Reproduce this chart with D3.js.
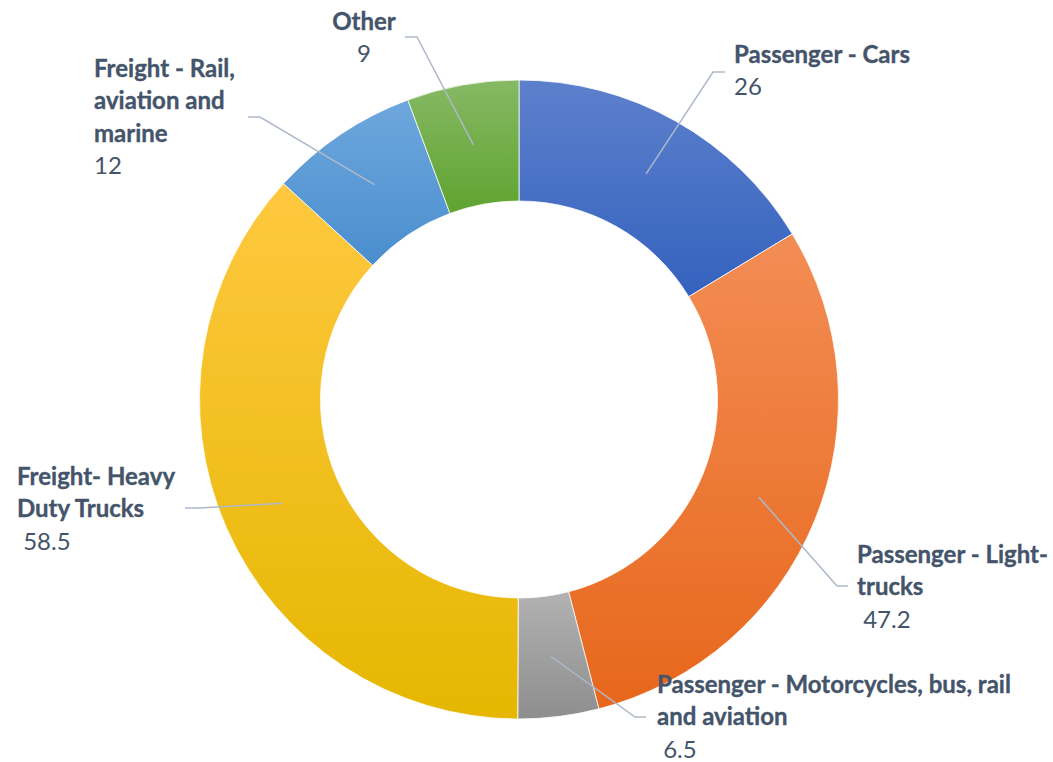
<!DOCTYPE html>
<html>
<head>
<meta charset="utf-8">
<script src="https://cdn.jsdelivr.net/npm/d3@7"></script>
<style>
  html, body { margin: 0; padding: 0; background: #fff; }
  svg text { font-family: Lato, "Open Sans", sans-serif; fill: #44546A; }
</style>
</head>
<body>
<div id="chart"></div>
<script>
// 資料
const categories = [
    "Passenger - Cars",
    "Passenger - Light-trucks",
    "Passenger - Motorcycles, bus, rail and aviation",
    "Freight- Heavy Duty Trucks",
    "Freight - Rail, aviation and marine",
    "Other"
];
const values = [26, 47.2, 6.5, 58.5, 12, 9];
const valueLabels = ["26", " 47.2", " 6.5", " 58.5", "12", "9"];
const labelLines = [
    ["Passenger - Cars"],
    ["Passenger - Light-", "trucks"],
    ["Passenger - Motorcycles, bus, rail", "and aviation"],
    ["Freight- Heavy", "Duty Trucks"],
    ["Freight - Rail,", "aviation and", "marine"],
    ["Other"]
];
const colorTop = ["#5D80CC", "#F38D55", "#B2B2B2", "#FFC840", "#6EA7DD", "#86B964"];
const colorBottom = ["#3462BE", "#E7671B", "#8E8E8E", "#E5B700", "#4A8ECE", "#60A330"];

// 標籤位置 (label x, first baseline y, anchor, elbow x, elbow y, line end x)
const labelLayout = [
    { x: 734, y: 63, anchor: "start", ex: 713, ey: 72, hx: 725 },
    { x: 857, y: 563, anchor: "start", ex: 837, ey: 586, hx: 848 },
    { x: 657, y: 693, anchor: "start", ex: 635, ey: 717, hx: 646 },
    { x: 17, y: 485, anchor: "start", ex: 200, ey: 508, hx: 185 },
    { x: 94, y: 77, anchor: "start", ex: 260, ey: 117, hx: 248 },
    { x: 364, y: 30, anchor: "middle", ex: 417, ey: 37, hx: 405 }
];

const width = 1053, height = 762;
const cx = 519, cy = 399.5;
const outerR = 319.5, innerR = 198.5;
const lineH = 32.3;

const svg = d3.select("#chart")
    .append("svg")
    .attr("width", width)
    .attr("height", height);

const defs = svg.append("defs");
categories.forEach((c, i) => {
    const g = defs.append("linearGradient")
        .attr("id", "grad" + i)
        .attr("x1", 0).attr("y1", 0).attr("x2", 0).attr("y2", 1);
    g.append("stop").attr("offset", "0%").attr("stop-color", colorTop[i]);
    g.append("stop").attr("offset", "100%").attr("stop-color", colorBottom[i]);
});

const data = categories.map((c, i) => ({ name: c, value: values[i], i: i }));

const pie = d3.pie().sort(null).value(d => d.value);
const arc = d3.arc().innerRadius(innerR).outerRadius(outerR);
const midArc = d3.arc().innerRadius((innerR + outerR) / 2).outerRadius((innerR + outerR) / 2);

const g = svg.append("g").attr("transform", `translate(${cx}, ${cy})`);
const arcs = pie(data);

g.selectAll(".slice")
    .data(arcs)
    .enter()
    .append("path")
    .attr("class", "slice")
    .attr("d", arc)
    .attr("fill", d => `url(#grad${d.data.i})`)
    .attr("stroke", "#fff")
    .attr("stroke-width", 0.75);

// 引導線
g.selectAll(".leader")
    .data(arcs)
    .enter()
    .append("polyline")
    .attr("class", "leader")
    .attr("fill", "none")
    .attr("stroke", "#ADB9CA")
    .attr("stroke-width", 1.5)
    .attr("points", d => {
        const L = labelLayout[d.data.i];
        const c = midArc.centroid(d);
        return [c, [L.ex - cx, L.ey - cy], [L.hx - cx, L.ey - cy]].map(p => p.join(",")).join(" ");
    });

// 標籤
const labels = svg.selectAll(".label")
    .data(data)
    .enter()
    .append("text")
    .attr("class", "label")
    .attr("text-anchor", d => labelLayout[d.i].anchor)
    .style("font-size", "24px");

labels.each(function(d) {
    const L = labelLayout[d.i];
    const t = d3.select(this);
    labelLines[d.i].forEach((line, k) => {
        t.append("tspan")
            .attr("x", L.x)
            .attr("y", L.y + k * lineH)
            .style("font-weight", "bold")
            .style("stroke", "#44546A")
            .style("stroke-width", 0.35)
            .text(line);
    });
    t.append("tspan")
        .attr("x", L.x)
        .attr("y", L.y + labelLines[d.i].length * lineH)
        .style("font-weight", "normal")
        .style("white-space", "pre")
        .attr("xml:space", "preserve")
        .text(valueLabels[d.i]);
});
</script>
</body>
</html>
